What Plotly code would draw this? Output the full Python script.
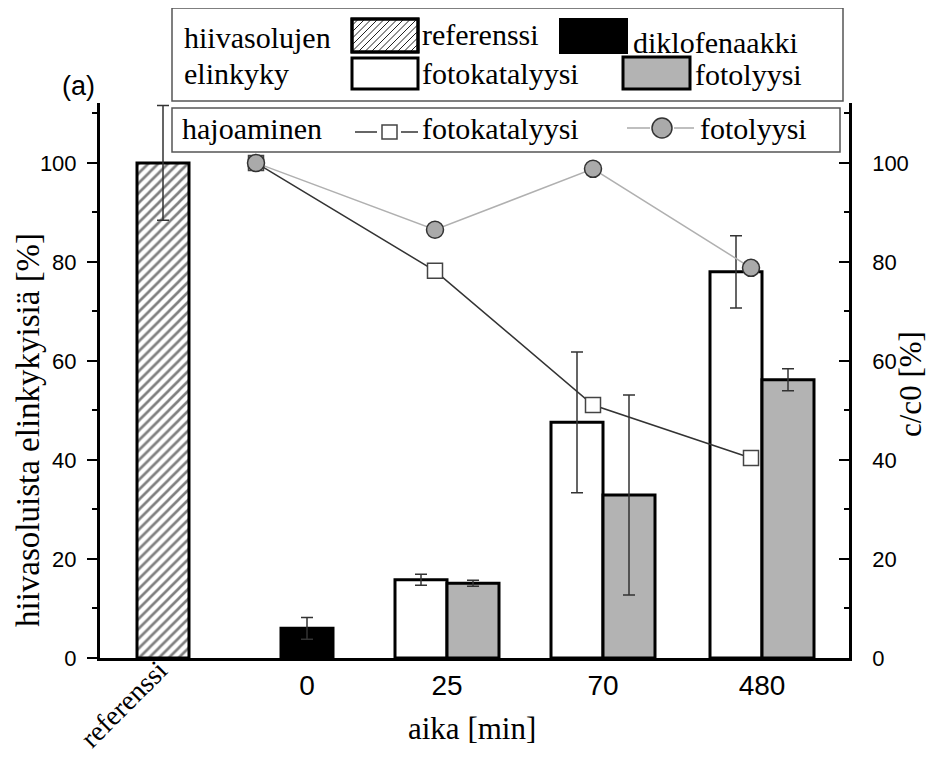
import plotly.graph_objects as go

# ---------------- data ----------------
categories = ["referenssi", "0", "25", "70", "480"]
time_labels = ["0", "25", "70", "480"]

ref_value = [100.0]
ref_err = [11.6]
dik_value = [6.0]
dik_err = [2.2]

bar_times = ["25", "70", "480"]
fotokat_bar = [15.8, 47.6, 78.0]
fotokat_bar_err = [1.1, 14.2, 7.3]
fotolyysi_bar = [15.1, 32.9, 56.2]
fotolyysi_bar_err = [0.6, 20.2, 2.2]

line_times = ["0", "25", "70", "480"]
fotokat_line = [100.0, 78.2, 51.1, 40.4]
fotolyysi_line = [100.0, 86.5, 98.8, 78.8]

# ---------------- layout helpers ----------------
# page has an 8 px body margin, so the figure is drawn 8 px in from the corner
OFF = 8
PW, PH = 936, 763
W, H = PW - 2 * OFF, PH - 2 * OFF
L, R, T, B = 100, 849, 103, 658      # plot area in page pixels
SERIF = "Liberation Serif"
SANS = "Liberation Sans"

# category centre positions on a numeric x axis (units = 100 px)
cat_pos = {"referenssi": 0.63, "0": 2.07, "25": 3.47, "70": 5.03, "480": 6.62}
line_pos = {"0": 1.56, "25": 3.35, "70": 4.93, "480": 6.51}
BW = 0.52
YMAX = 112.1


def px(x):
    return (x - L) / (R - L)


def py(y):
    return (B - y) / (B - T)


fig = go.Figure()

bar_line = dict(color="black", width=3)
err_style = dict(type="data", color="#333333", thickness=1.5, width=6, visible=True)

fig.add_trace(go.Bar(
    x=[cat_pos["referenssi"]], y=ref_value, width=BW,
    marker=dict(color="white", line=bar_line,
                pattern=dict(shape="/", fgcolor="#000000", bgcolor="white", size=7, solidity=0.38)),
    error_y=dict(array=ref_err, **err_style), showlegend=False))

fig.add_trace(go.Bar(
    x=[cat_pos["0"]], y=dik_value, width=BW,
    marker=dict(color="black", line=bar_line),
    error_y=dict(array=dik_err, **err_style), showlegend=False))

fig.add_trace(go.Bar(
    x=[cat_pos[t] - BW / 2 for t in bar_times], y=fotokat_bar, width=BW,
    marker=dict(color="white", line=bar_line),
    error_y=dict(array=fotokat_bar_err, **err_style), showlegend=False))

fig.add_trace(go.Bar(
    x=[cat_pos[t] + BW / 2 for t in bar_times], y=fotolyysi_bar, width=BW,
    marker=dict(color="#b3b3b3", line=bar_line),
    error_y=dict(array=fotolyysi_bar_err, **err_style), showlegend=False))

fig.add_trace(go.Scatter(
    x=[line_pos[t] for t in line_times], y=fotokat_line, yaxis="y2",
    mode="lines+markers",
    line=dict(color="#333333", width=1.5),
    marker=dict(symbol="square", size=15, color="white", line=dict(color="#444444", width=1.5)),
    showlegend=False))

fig.add_trace(go.Scatter(
    x=[line_pos[t] for t in line_times], y=fotolyysi_line, yaxis="y2",
    mode="lines+markers",
    line=dict(color="#b0b0b0", width=1.5),
    marker=dict(symbol="circle", size=17, color="#aaaaaa", line=dict(color="#333333", width=1.5)),
    showlegend=False))

# ---------------- legend (drawn) ----------------
shapes = []
annotations = []


def rect(x0, y0, x1, y1, fill="white", lc="black", lw=3):
    shapes.append(dict(type="rect", xref="paper", yref="paper",
                       x0=px(x0), x1=px(x1), y0=py(y1), y1=py(y0),
                       fillcolor=fill, line=dict(color=lc, width=lw), layer="above"))


def seg(x0, y0, x1, y1, color, width):
    shapes.append(dict(type="line", xref="paper", yref="paper",
                       x0=px(x0), x1=px(x1), y0=py(y0), y1=py(y1),
                       line=dict(color=color, width=width), layer="above"))


def text(x, y, s, size=30, anchor="left", family=SERIF, angle=0, yanchor="middle"):
    annotations.append(dict(xref="paper", yref="paper", x=px(x), y=py(y), text=s,
                            showarrow=False, xanchor=anchor, yanchor=yanchor, textangle=angle,
                            font=dict(family=family, size=size, color="black")))


# box 1
rect(172, 8, 843, 101, fill="white", lc="#555555", lw=1.5)
# hatched swatch
hx0, hy0, hx1, hy1 = 352, 19, 418, 52
rect(hx0, hy0, hx1, hy1, fill="white", lw=3)
step = 6.5
c = hx0 + hy0
while c < hx1 + hy1:
    c += step
    xa = max(hx0, c - hy1)
    xb = min(hx1, c - hy0)
    if xb > xa:
        seg(xa, c - xa, xb, c - xb, "#222222", 1)
rect(hx0, hy0, hx1, hy1, fill="rgba(0,0,0,0)", lw=3)
rect(560, 19, 627, 53, fill="black", lw=2)
rect(352, 58, 418, 89, fill="white", lw=3)
rect(623, 57, 690, 89, fill="#b3b3b3", lw=3)

text(182, 37, "hiivasolujen")
text(182, 73, "elinkyky")
text(420, 35, "referenssi")
text(631, 42, "diklofenaakki")
text(420, 73, "fotokatalyysi")
text(693, 74, "fotolyysi")

# box 2
rect(172, 108, 840, 152, fill="white", lc="#555555", lw=1.5)
text(180, 129, "hajoaminen")
seg(355, 132, 377, 132, "#333333", 1.5)
seg(401, 132, 418, 132, "#333333", 1.5)
rect(382, 125, 397, 139, fill="white", lc="#444444", lw=1.5)
text(420, 129, "fotokatalyysi")
seg(627, 128, 650, 128, "#aaaaaa", 1.5)
seg(674, 128, 694, 128, "#aaaaaa", 1.5)
shapes.append(dict(type="circle", xref="paper", yref="paper",
                   x0=px(652), x1=px(672), y0=py(138), y1=py(118),
                   fillcolor="#aaaaaa", line=dict(color="#333333", width=1.5), layer="above"))
text(698, 129, "fotolyysi")

# other texts
text(78, 86, "(a)", size=27, anchor="center", family=SANS)
text(28, 430, "hiivasoluista elinkykyisiä [%]", size=33, anchor="center", angle=-90)
text(911, 384, "c/c0 [%]", size=31, anchor="center", angle=-90)
text(472, 728, "aika [min]", size=31, anchor="center")
text(123, 704, "referenssi", size=28, anchor="center", angle=-45)

fig.update_layout(
    width=W, height=H, autosize=False,
    margin=dict(l=L - OFF, r=PW - R - OFF, t=T - OFF, b=PH - B - OFF, pad=0),
    plot_bgcolor="white", paper_bgcolor="white",
    barmode="overlay", showlegend=False,
    shapes=shapes, annotations=annotations,
    xaxis=dict(range=[0, (R - L) / 100], tickmode="array",
               tickvals=[cat_pos[t] for t in time_labels], ticktext=time_labels,
               ticks="", showline=True, linecolor="black", linewidth=3,
               showgrid=False, zeroline=False,
               tickfont=dict(family=SANS, size=28, color="black")),
    yaxis=dict(range=[0, YMAX], tickmode="linear", tick0=0, dtick=20,
               ticks="outside", ticklen=10, tickwidth=2, tickcolor="black",
               minor=dict(ticks="outside", ticklen=5, tickwidth=2, tickcolor="black", dtick=10, tick0=0),
               showline=True, linecolor="black", linewidth=3,
               showgrid=False, zeroline=False, ticklabelstandoff=6,
               tickfont=dict(family=SANS, size=22, color="black")),
    yaxis2=dict(range=[0, YMAX], overlaying="y", side="right", tickmode="linear", tick0=0, dtick=20,
                ticks="inside", ticklen=10, tickwidth=2, tickcolor="black",
                minor=dict(ticks="inside", ticklen=5, tickwidth=2, tickcolor="black", dtick=10, tick0=0),
                showline=True, linecolor="black", linewidth=2.5,
                showgrid=False, zeroline=False, ticklabelstandoff=16,
                tickfont=dict(family=SANS, size=22, color="black")),
)

fig.write_html("out.html")
